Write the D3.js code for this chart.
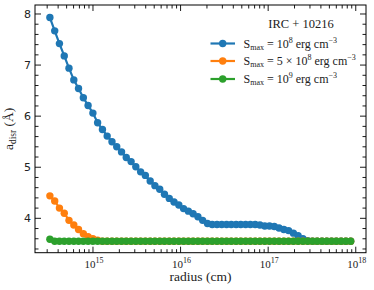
<!DOCTYPE html>
<html>
<head>
<meta charset="utf-8">
<script src="https://cdn.jsdelivr.net/npm/d3@7"></script>
<style>
  html, body { margin: 0; padding: 0; background: #fff; }
  svg { display: block; }
</style>
</head>
<body>
<div id="chart"></div>
<script>
// log10 of radius (cm) for each grid point
const logRadius = [
  14.508, 14.563, 14.617, 14.672, 14.726, 14.781, 14.835, 14.890, 14.944, 14.999,
  15.053, 15.108, 15.162, 15.217, 15.271, 15.326, 15.380, 15.435, 15.489, 15.544,
  15.598, 15.653, 15.707, 15.762, 15.816, 15.871, 15.925, 15.980, 16.034, 16.089,
  16.143, 16.198, 16.252, 16.307, 16.361, 16.416, 16.470, 16.525, 16.579, 16.634,
  16.688, 16.743, 16.797, 16.852, 16.906, 16.961, 17.015, 17.070, 17.124, 17.179,
  17.233, 17.288, 17.342, 17.397, 17.451, 17.506, 17.560, 17.615, 17.669, 17.724,
  17.778, 17.833, 17.887, 17.942
];

const aBlue = [
  7.93, 7.67, 7.42, 7.18, 6.94, 6.71, 6.54, 6.36, 6.21, 6.06,
  5.87, 5.74, 5.61, 5.50, 5.40, 5.30, 5.19, 5.11, 5.01, 4.91,
  4.84, 4.73, 4.64, 4.57, 4.47, 4.39, 4.32, 4.26, 4.19, 4.14,
  4.09, 4.03, 3.96, 3.90, 3.88, 3.88, 3.88, 3.88, 3.88, 3.88,
  3.88, 3.88, 3.88, 3.88, 3.87, 3.85, 3.85, 3.84, 3.81, 3.78,
  3.76, 3.71, 3.66, 3.60, 3.56, 3.55, 3.55, 3.55, 3.55, 3.55,
  3.55, 3.55, 3.55, 3.55
];

const aOrange = [
  4.44, 4.34, 4.20, 4.10, 3.96, 3.87, 3.78, 3.70, 3.64, 3.60,
  3.57, 3.55, 3.55, 3.55, 3.55, 3.55, 3.55, 3.55, 3.55, 3.55,
  3.55, 3.55, 3.55, 3.55, 3.55, 3.55, 3.55, 3.55, 3.55, 3.55,
  3.55, 3.55, 3.55, 3.55, 3.55, 3.55, 3.55, 3.55, 3.55, 3.55,
  3.55, 3.55, 3.55, 3.55, 3.55, 3.55, 3.55, 3.55, 3.55, 3.55,
  3.55, 3.55, 3.55, 3.55, 3.55, 3.55, 3.55, 3.55, 3.55, 3.55,
  3.55, 3.55, 3.55, 3.55
];

const aGreen = [
  3.59, 3.55, 3.55, 3.55, 3.55, 3.55, 3.55, 3.55, 3.55, 3.55,
  3.55, 3.55, 3.55, 3.55, 3.55, 3.55, 3.55, 3.55, 3.55, 3.55,
  3.55, 3.55, 3.55, 3.55, 3.55, 3.55, 3.55, 3.55, 3.55, 3.55,
  3.55, 3.55, 3.55, 3.55, 3.55, 3.55, 3.55, 3.55, 3.55, 3.55,
  3.55, 3.55, 3.55, 3.55, 3.55, 3.55, 3.55, 3.55, 3.55, 3.55,
  3.55, 3.55, 3.55, 3.55, 3.55, 3.55, 3.55, 3.55, 3.55, 3.55,
  3.55, 3.55, 3.55, 3.55
];

const seriesNames = ["blue", "orange", "green"];
const seriesColors = ["#1f77b4", "#ff7f0e", "#2ca02c"];
// legend labels: mantissa prefix and exponent of S_max
const legendMantissa = ["", "5 × ", ""];
const legendExponent = ["8", "8", "9"];

const yTicks = [4, 5, 6, 7, 8];
const xDecades = [15, 16, 17, 18];

const width = 374, height = 290;
const margin = { left: 35, right: 8, top: 5, bottom: 37.3 };
const serif = "'Liberation Serif', 'DejaVu Serif', serif";
const sans = "'DejaVu Sans', sans-serif";
const dotR = 3.7;

const svg = d3.select("#chart").append("svg")
  .attr("width", width)
  .attr("height", height);

const x = d3.scaleLog()
  .domain([Math.pow(10, 14.338), Math.pow(10, 18.117)])
  .range([margin.left, width - margin.right]);
const y = d3.scaleLinear()
  .domain([3.327, 8.176])
  .range([height - margin.bottom, margin.top]);

const x0 = margin.left, x1 = width - margin.right;
const y0 = height - margin.bottom, y1 = margin.top;

svg.append("defs").append("clipPath").attr("id", "clip")
  .append("rect").attr("x", x0).attr("y", y1).attr("width", x1 - x0).attr("height", y0 - y1);

const plot = svg.append("g").attr("clip-path", "url(#clip)");

const allSeries = [aBlue, aOrange, aGreen];
allSeries.forEach((vals, k) => {
  const pts = vals.map((v, i) => [Math.pow(10, logRadius[i]), v]);
  const g = plot.append("g");
  g.append("path")
    .attr("d", d3.line().x(d => x(d[0])).y(d => y(d[1]))(pts))
    .attr("fill", "none")
    .attr("stroke", seriesColors[k])
    .attr("stroke-width", 2.2);
  g.selectAll("circle").data(pts).join("circle")
    .attr("cx", d => x(d[0]))
    .attr("cy", d => y(d[1]))
    .attr("r", dotR)
    .attr("fill", seriesColors[k]);
});

// frame
svg.append("rect")
  .attr("x", x0).attr("y", y1)
  .attr("width", x1 - x0).attr("height", y0 - y1)
  .attr("fill", "none").attr("stroke", "#000").attr("stroke-width", 1);

// ticks (inward on all sides)
const majorLen = 6, minorLen = 3.5;
const ticks = svg.append("g").attr("stroke", "#000").attr("stroke-width", 0.9);

const xMinor = [];
[14, 15, 16, 17, 18].forEach(dec => {
  for (let m = 2; m <= 9; m++) xMinor.push(m * Math.pow(10, dec));
});
xMinor.filter(v => x(v) > x0 && x(v) < x1).forEach(v => {
  const px = x(v);
  ticks.append("line").attr("x1", px).attr("x2", px).attr("y1", y0).attr("y2", y0 - minorLen);
  ticks.append("line").attr("x1", px).attr("x2", px).attr("y1", y1).attr("y2", y1 + minorLen);
});
xDecades.forEach(dec => {
  const px = x(Math.pow(10, dec));
  ticks.append("line").attr("x1", px).attr("x2", px).attr("y1", y0).attr("y2", y0 - majorLen);
  ticks.append("line").attr("x1", px).attr("x2", px).attr("y1", y1).attr("y2", y1 + majorLen);
});

const yMinor = d3.range(34, 82, 2).map(v => v / 10).filter(v => !yTicks.includes(v));
yMinor.filter(v => y(v) < y0 && y(v) > y1).forEach(v => {
  const py = y(v);
  ticks.append("line").attr("x1", x0).attr("x2", x0 + minorLen).attr("y1", py).attr("y2", py);
  ticks.append("line").attr("x1", x1).attr("x2", x1 - minorLen).attr("y1", py).attr("y2", py);
});
yTicks.forEach(v => {
  const py = y(v);
  ticks.append("line").attr("x1", x0).attr("x2", x0 + majorLen).attr("y1", py).attr("y2", py);
  ticks.append("line").attr("x1", x1).attr("x2", x1 - majorLen).attr("y1", py).attr("y2", py);
});

// y tick labels
svg.append("g").selectAll("text").data(yTicks).join("text")
  .attr("x", x0 - 4)
  .attr("y", d => y(d))
  .attr("dy", "0.36em")
  .attr("text-anchor", "end")
  .style("font", `11px ${sans}`)
  .attr("fill", "#222")
  .text(d => d);

// x tick labels 10^n
const xl = svg.append("g").selectAll("text").data(xDecades).join("text")
  .attr("x", d => x(Math.pow(10, d)) + 1)
  .attr("y", y0 + 15)
  .attr("text-anchor", "middle")
  .style("font", `11px ${serif}`)
  .attr("fill", "#222");
xl.append("tspan").text("10");
xl.append("tspan").attr("dy", -4.5).style("font-size", "8px").text(d => d);

// axis titles
svg.append("text")
  .attr("x", (x0 + x1) / 2)
  .attr("y", 281)
  .attr("text-anchor", "middle")
  .style("font", `13.5px ${serif}`)
  .attr("fill", "#222")
  .text("radius (cm)");

const yl = svg.append("text")
  .attr("transform", `translate(13,${(y0 + y1) / 2}) rotate(-90)`)
  .attr("text-anchor", "middle")
  .style("font", `13.5px ${serif}`)
  .attr("fill", "#222");
yl.append("tspan").text("a");
yl.append("tspan").attr("dy", 2.5).style("font-size", "9.5px").text("disr");
yl.append("tspan").attr("dy", -2.5).text(" (Å)");

// legend
const legend = svg.append("g");
legend.append("text")
  .attr("x", 301)
  .attr("y", 28)
  .attr("text-anchor", "middle")
  .style("font", `12.5px ${serif}`)
  .attr("fill", "#222")
  .text("IRC + 10216");

const rowY = [43.5, 61, 79];
seriesNames.forEach((name, k) => {
  const row = legend.append("g").attr("transform", `translate(0,${rowY[k]})`);
  row.append("line")
    .attr("x1", 210.5).attr("x2", 235)
    .attr("stroke", seriesColors[k]).attr("stroke-width", 2.2);
  row.append("circle").attr("cx", 222.7).attr("r", dotR).attr("fill", seriesColors[k]);
  const t = row.append("text")
    .attr("x", 243.5)
    .attr("y", 4)
    .style("font", `12px ${serif}`)
    .attr("fill", "#222");
  t.append("tspan").text("S");
  t.append("tspan").attr("dy", 2).style("font-size", "8px").text("max");
  t.append("tspan").attr("dy", -2).text(` = ${legendMantissa[k]}10`);
  t.append("tspan").attr("dy", -5).style("font-size", "8px").text(legendExponent[k]);
  t.append("tspan").attr("dy", 5).text(" erg cm");
  t.append("tspan").attr("dy", -5).style("font-size", "8px").text("−3");
});
</script>
</body>
</html>
